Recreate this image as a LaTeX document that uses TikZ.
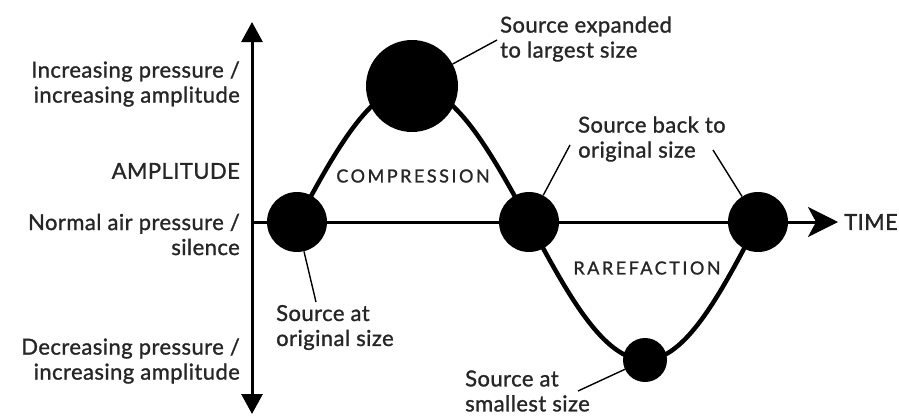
\documentclass[tikz,border=0pt]{standalone}
\usepackage{fontspec}
\setmainfont{Lato}
\usetikzlibrary{arrows.meta}
\begin{document}
\begin{tikzpicture}[x=1pt,y=-1pt,
  src/.style={circle,fill=black,inner sep=0pt},
  txt/.style={font=\fontsize{22}{25}\selectfont\addfontfeatures{FakeBold=1.2,LetterSpace=2},inner sep=0pt,text=black!85},
  axislbl/.style={txt,align=right,anchor=east},
  srclbl/.style={txt,align=left,anchor=west},
  phase/.style={font=\fontsize{18}{20}\selectfont\addfontfeatures{FakeBold=1.2,LetterSpace=14},inner sep=0pt,text=black!85},
  leader/.style={line width=1.4pt}]
\useasboundingbox (0,0) rectangle (899,416);

% axes
\coordinate (top) at (252,22);
\coordinate (bot) at (252,414);
\coordinate (orig) at (252,222);
\coordinate (tend) at (838,222);
\draw[line width=3pt,{Triangle[width=21pt,length=20pt]}-{Triangle[width=21pt,length=20pt]}] (top) -- (bot);
\draw[line width=3pt,-{Stealth[width=30pt,length=30pt,inset=8pt]}] (orig) -- (tend);

% positions of the source
\coordinate (p1) at (297,222);
\coordinate (p2) at (412,86);
\coordinate (p3) at (529,222);
\coordinate (p4) at (645,360);
\coordinate (p5) at (758,222);
\draw[line width=4.5pt] (p1) sin (p2) cos (p3) sin (p4) cos (p5);

\node[src,minimum size=60pt] (c1) at (p1) {};
\node[src,minimum size=92pt] (cbig) at (p2) {};
\node[src,minimum size=60pt] (c3) at (p3) {};
\node[src,minimum size=44pt] (csmall) at (p4) {};
\node[src,minimum size=60pt] (c5) at (p5) {};

% axis labels
\node[axislbl] (incp) at (240,84) {Increasing pressure /\\increasing amplitude};
\node[axislbl] (ampl) at (240,171) {AMPLITUDE};
\node[axislbl] (norm) at (240,234.5) {Normal air pressure /\\silence};
\node[axislbl] (decp) at (240,361) {Decreasing pressure /\\increasing amplitude};
\node[txt,anchor=west] (time) at (844,222) {TIME};

\node[phase] (comp) at (413,176) {COMPRESSION};
\node[phase] (rare) at (647,268) {RAREFACTION};

% source labels
\node[srclbl] (lexp) at (500,39) {Source expanded\\to largest size};
\node[srclbl] (lback) at (578,139) {Source back to\\original size};
\node[srclbl] (lorig) at (276,327.5) {Source at\\original size};
\node[srclbl] (lsmall) at (465,391) {Source at\\smallest size};

\coordinate (aexp) at (497,40);
\coordinate (aback1) at (570,145);
\coordinate (aback2) at (713,150);
\coordinate (aorig) at (316,302);
\coordinate (asmall) at (578,391);
\draw[leader] (aexp) -- (cbig);
\draw[leader] (aback1) -- (c3);
\draw[leader] (aback2) -- (c5);
\draw[leader] (aorig) -- (c1);
\draw[leader] (asmall) -- (csmall);
\end{tikzpicture}
\end{document}
